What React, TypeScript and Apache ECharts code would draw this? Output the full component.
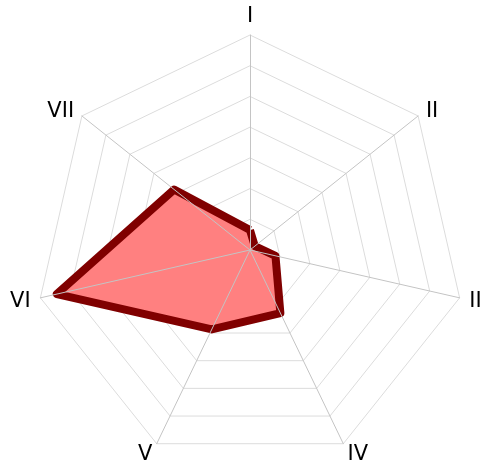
import React, { useEffect, useRef } from "react";
import * as echarts from "echarts";

const indicators = ["I", "II", "III", "IV", "V", "VI", "VII"];
const values = [0.65, 0.2, 0.85, 2.28, 2.87, 6.45, 3.16];
const maxValue = 7;
const rings = 7;

// ECharts lays radar axes out counter-clockwise; the reference runs clockwise,
// so keep the first axis on top and reverse the rest.
const order = [0, ...indicators.slice(1).map((_, i) => indicators.length - 1 - i)];

export default function App() {
  const ref = useRef<HTMLDivElement>(null);
  useEffect(() => {
    if (!ref.current) return;
    const chart = echarts.init(ref.current, undefined, { renderer: "svg" });
    const base = {
      center: [250, 250],
      radius: 215,
      startAngle: 90,
      shape: "polygon",
      splitNumber: rings,
      nameGap: 10,
      indicator: order.map((i) => ({ name: indicators[i], min: 0, max: maxValue })),
    };
    const ordered = order.map((i) => values[i]);
    chart.setOption({
      animation: false,
      radar: [
        {
          ...base,
          z: 0,
          axisName: {
            color: "#000",
            fontSize: 21,
            fontFamily: "DejaVu Sans",
          },
          axisLine: { show: false },
          splitLine: { lineStyle: { color: "#dcdcdc", width: 1 } },
          splitArea: { show: false },
        },
        {
          ...base,
          z: 5,
          axisName: { show: false },
          axisLine: { lineStyle: { color: "#c4c4c4", width: 1 } },
          splitLine: { show: false },
          splitArea: { show: false },
        },
      ],
      series: [
        {
          type: "radar",
          radarIndex: 0,
          z: 2,
          symbol: "none",
          data: [
            {
              value: ordered,
              lineStyle: { width: 0, opacity: 0 },
              areaStyle: { color: "#ff8080", opacity: 1 },
            },
          ],
        },
        {
          type: "radar",
          radarIndex: 0,
          z: 3,
          symbol: "none",
          data: [
            {
              value: ordered,
              lineStyle: { color: "#800000", width: 8 },
            },
          ],
        },
      ],
    });
    return () => chart.dispose();
  }, []);
  return (
    <div
      ref={ref}
      style={{ position: "fixed", left: 0, top: 0, width: 482, height: 465 }}
    />
  );
}
